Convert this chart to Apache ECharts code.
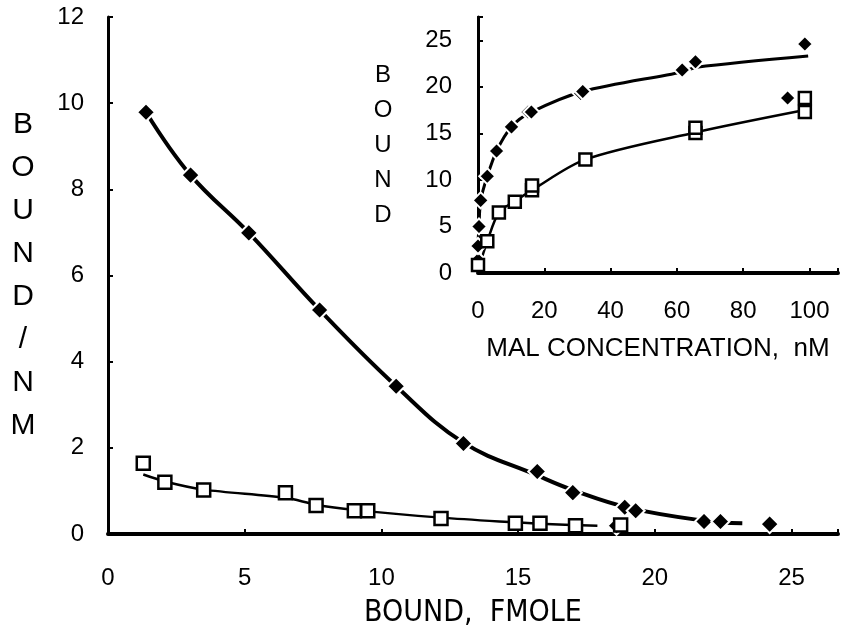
<!DOCTYPE html>
<html>
<head>
<meta charset="utf-8">
<script src="https://cdn.jsdelivr.net/npm/echarts@6/dist/echarts.min.js"></script>
<style>
    html, body { margin: 0; padding: 0; background: #fff; }
    #chart { width: 841px; height: 640px; }
</style>
</head>
<body>
<div id="chart"></div>
<script>
// --- main plot (bound/free vs bound) ---
const mainDiamonds = [
    [1.39, 9.79], [3.02, 8.33], [5.15, 6.99], [7.74, 5.20], [10.54, 3.43],
    [13.0, 2.10], [15.7, 1.45], [17.0, 0.96], [18.9, 0.62], [19.3, 0.54],
    [18.6, 0.19], [21.8, 0.29], [22.4, 0.29], [24.2, 0.23]
];
// hand-drawn fit curve through the filled points
const mainDiamondFit = [
    [1.39, 9.79], [3.02, 8.33], [5.15, 6.99], [7.74, 5.20], [10.54, 3.43],
    [13.0, 2.12], [15.7, 1.36], [17.0, 1.02], [19.1, 0.60], [21.8, 0.31],
    [23.2, 0.25]
];
const mainSquares = [
    [1.29, 1.64], [2.08, 1.20], [3.50, 1.02], [6.49, 0.96], [7.61, 0.66],
    [9.01, 0.54], [9.5, 0.54], [12.18, 0.36], [14.9, 0.25], [15.8, 0.25],
    [17.1, 0.19], [18.75, 0.21]
];
const mainSquareFit = [
    [1.29, 1.38], [2.08, 1.22], [3.50, 1.03], [6.49, 0.84], [7.61, 0.68],
    [9.01, 0.56], [12.18, 0.38], [14.9, 0.27], [15.8, 0.24], [17.9, 0.19]
];

// --- inset (bound vs MAL concentration) ---
const insetDiamonds = [
    [0, 1.4], [0, 2.9], [0.3, 5.0], [0.8, 7.8], [2.8, 10.4], [5.6, 13.1],
    [10.1, 15.7], [15.1, 17.3], [16.1, 17.3], [31.0, 19.3], [31.6, 19.5],
    [61.6, 21.8], [65.6, 22.7], [93.4, 18.8], [98.6, 24.6]
];
const insetDiamondFit = [
    [0, 0.8], [0, 2.9], [0.3, 5.0], [0.8, 7.8], [2.8, 10.4], [5.6, 13.1],
    [10.1, 15.7], [15.6, 17.2], [31.6, 19.5], [61.6, 21.6], [66, 22.1],
    [99.6, 23.3]
];
const insetSquares = [
    [0, 0.86], [2.8, 3.4], [6.3, 6.5], [11.1, 7.65], [16.3, 8.9], [16.3, 9.4],
    [32.4, 12.2], [65.6, 15.05], [65.6, 15.6], [98.6, 18.8], [98.6, 17.3]
];
const insetSquareFit = [
    [0, 0.3], [2.8, 3.4], [6.3, 6.5], [11.1, 7.7], [16.3, 8.9], [32.4, 12.2],
    [65.6, 15.1], [98.6, 17.5]
];

const FONT = "'Liberation Sans', Arial, Helvetica, sans-serif";
const NARROW = "'Liberation Sans Narrow', 'DejaVu Sans Condensed', 'Liberation Sans', sans-serif";

const onlyMultiples = step => v => (Math.abs(v / step - Math.round(v / step)) < 1e-6 ? String(v) : '');

const chart = echarts.init(document.getElementById('chart'), null, { renderer: 'canvas' });

chart.setOption({
    animation: false,
    backgroundColor: '#fff',
    grid: [
        { left: 108, top: 17, width: 732, height: 517 },
        { left: 478, top: 17, width: 362, height: 256, show: true, backgroundColor: '#fff', borderWidth: 0, z: 3 }
    ],
    xAxis: [
        {
            gridIndex: 0, type: 'value', min: 0, max: 26.7, interval: 5,
            splitLine: { show: false },
            axisLine: { onZero: false, lineStyle: { color: '#000', width: 4 } },
            axisTick: { inside: true, length: 5, lineStyle: { color: '#000', width: 2 } },
            axisLabel: { margin: 32, fontSize: 24, color: '#000', fontFamily: FONT, formatter: onlyMultiples(5) },
            name: 'BOUND,  FMOLE', nameLocation: 'middle', nameGap: 64,
            nameTextStyle: { fontSize: 30, color: '#000', fontFamily: NARROW }
        },
        {
            gridIndex: 0, type: 'value', position: 'top', min: 0, max: 26.7,
            splitLine: { show: false },
            axisLine: { lineStyle: { color: '#000', width: 2 } },
            axisTick: { show: false }, axisLabel: { show: false }
        },
        {
            gridIndex: 1, type: 'value', min: 0, max: 108.6, interval: 20,
            splitLine: { show: false },
            axisLine: { onZero: false, lineStyle: { color: '#000', width: 4 } },
            axisTick: { inside: true, length: 5, lineStyle: { color: '#000', width: 2 } },
            axisLabel: { margin: 26, fontSize: 24, color: '#000', fontFamily: FONT, formatter: onlyMultiples(20) },
            name: 'MAL CONCENTRATION,  nM', nameLocation: 'middle', nameGap: 63,
            nameTextStyle: { fontSize: 26, color: '#000', fontFamily: FONT },
            z: 4
        }
    ],
    yAxis: [
        {
            gridIndex: 0, type: 'value', min: 0, max: 12, interval: 2,
            splitLine: { show: false },
            axisLine: { onZero: false, lineStyle: { color: '#000', width: 3 } },
            axisTick: { inside: true, length: 5, lineStyle: { color: '#000', width: 2 } },
            axisLabel: { margin: 24, fontSize: 24, color: '#000', fontFamily: FONT },
            name: 'B\nO\nU\nN\nD\n/\nN\nM', nameLocation: 'middle', nameRotate: 0, nameGap: 85,
            nameTextStyle: { fontSize: 30, lineHeight: 43, color: '#000', fontFamily: FONT, align: 'center', verticalAlign: 'middle' }
        },
        {
            gridIndex: 1, type: 'value', min: 0, max: 27.5, interval: 5,
            splitLine: { show: false },
            axisLine: { onZero: false, lineStyle: { color: '#000', width: 3 } },
            axisTick: { inside: true, length: 5, lineStyle: { color: '#000', width: 2 } },
            axisLabel: { margin: 26, fontSize: 24, color: '#000', fontFamily: FONT, formatter: onlyMultiples(5) },
            name: 'B\nO\nU\nN\nD', nameLocation: 'middle', nameRotate: 0, nameGap: 95,
            nameTextStyle: { fontSize: 24, lineHeight: 35, color: '#000', fontFamily: FONT, align: 'center', verticalAlign: 'middle', padding: [8, 0, 0, 0] },
            z: 4
        },
        {
            gridIndex: 1, type: 'value', position: 'right', min: 0, max: 27.5,
            splitLine: { show: false },
            axisLine: { lineStyle: { color: '#000', width: 2 } },
            axisTick: { show: false }, axisLabel: { show: false },
            z: 4
        }
    ],
    series: [
        {
            type: 'line', xAxisIndex: 0, yAxisIndex: 0, data: mainDiamondFit,
            smooth: 0.4, symbol: 'none', lineStyle: { color: '#000', width: 4 }, z: 2
        },
        {
            type: 'line', xAxisIndex: 0, yAxisIndex: 0, data: mainSquareFit,
            smooth: 0.3, symbol: 'none', lineStyle: { color: '#000', width: 2.5 }, z: 2
        },
        {
            type: 'scatter', xAxisIndex: 0, yAxisIndex: 0, data: mainDiamonds,
            symbol: 'diamond', symbolSize: 18,
            itemStyle: { color: '#000', borderColor: '#fff', borderWidth: 2, opacity: 1 }, z: 5
        },
        {
            type: 'scatter', xAxisIndex: 0, yAxisIndex: 0, data: mainSquares,
            symbol: 'rect', symbolSize: 13,
            itemStyle: { color: '#fff', borderColor: '#000', borderWidth: 2.5, opacity: 1 }, z: 5
        },
        {
            type: 'line', xAxisIndex: 2, yAxisIndex: 1, data: insetDiamondFit,
            smooth: 0.3, symbol: 'none', clip: false, lineStyle: { color: '#000', width: 3 }, z: 6
        },
        {
            type: 'line', xAxisIndex: 2, yAxisIndex: 1, data: insetSquareFit,
            smooth: 0.3, symbol: 'none', clip: false, lineStyle: { color: '#000', width: 2.5 }, z: 6
        },
        {
            type: 'scatter', xAxisIndex: 2, yAxisIndex: 1, data: insetDiamonds,
            symbol: 'diamond', symbolSize: 16, clip: false,
            itemStyle: { color: '#000', borderColor: '#fff', borderWidth: 2, opacity: 1 }, z: 7
        },
        {
            type: 'scatter', xAxisIndex: 2, yAxisIndex: 1, data: insetSquares,
            symbol: 'rect', symbolSize: 12, clip: false,
            itemStyle: { color: '#fff', borderColor: '#000', borderWidth: 2.5, opacity: 1 }, z: 7
        }
    ]
});
</script>
</body>
</html>
